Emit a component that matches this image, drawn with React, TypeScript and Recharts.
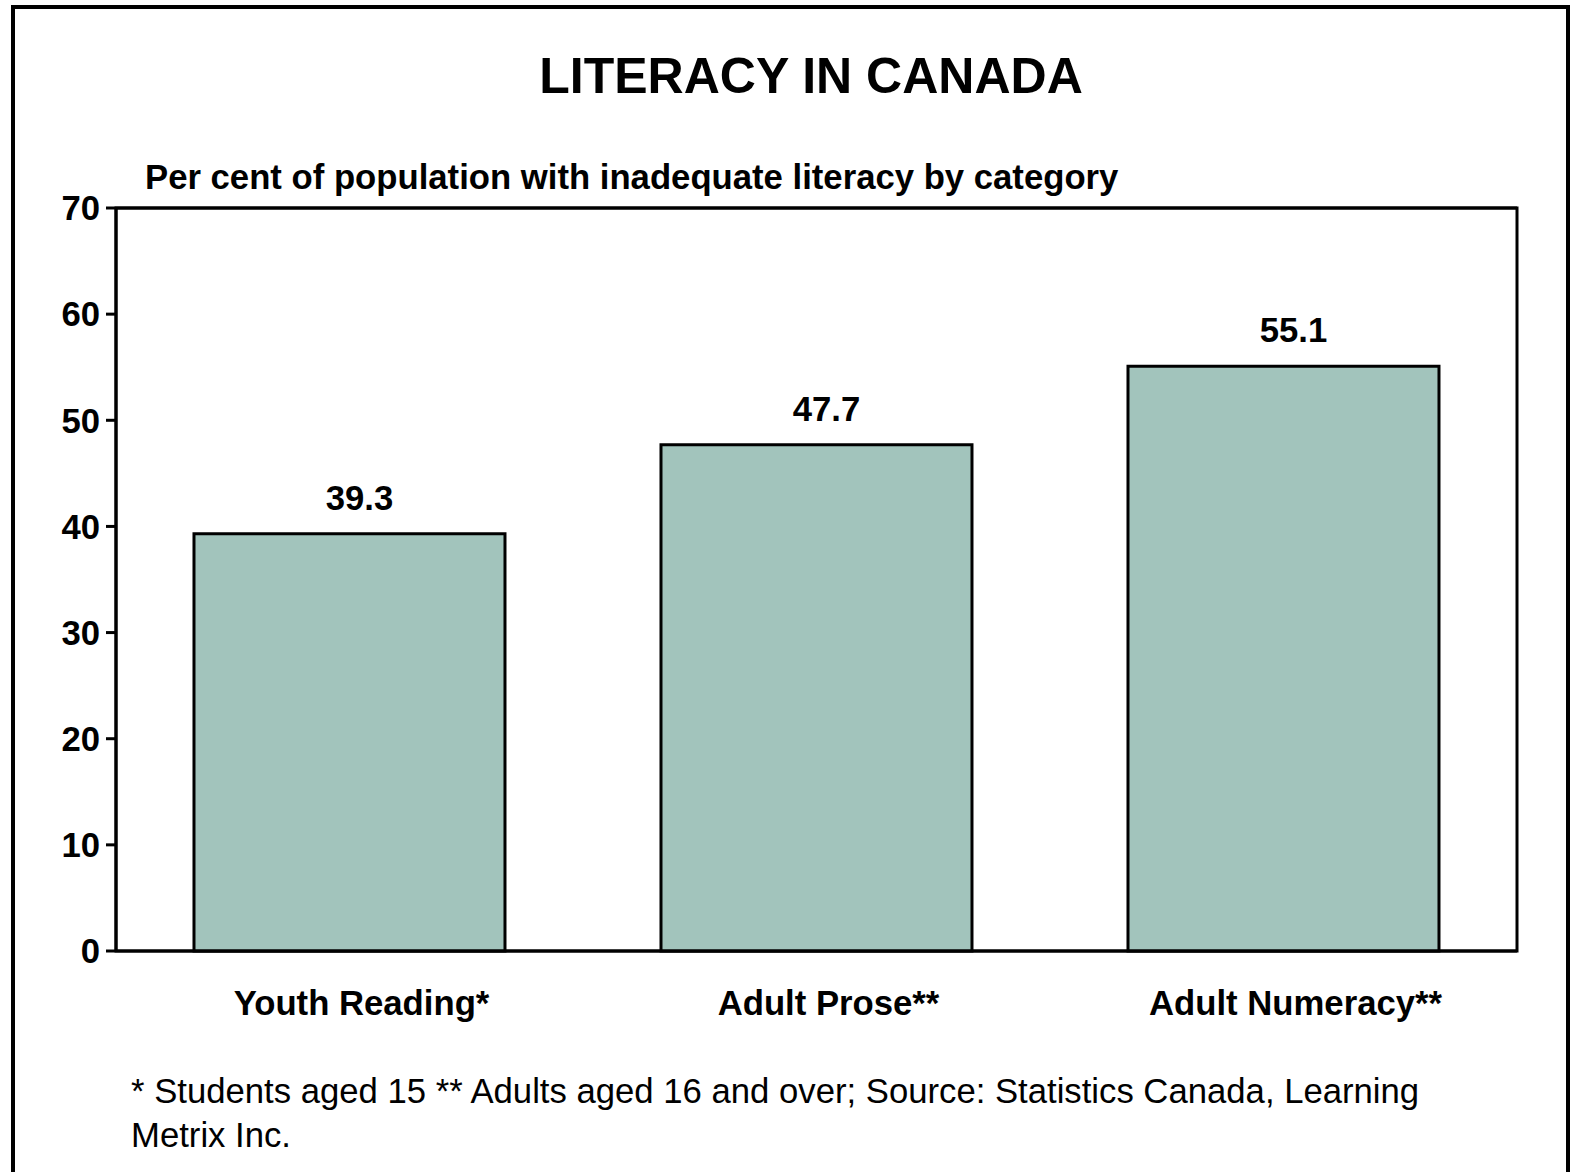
import * as Recharts from "recharts";
import { BarChart, Bar, XAxis, YAxis, LabelList, ReferenceLine } from "recharts";

const categories = ["Youth Reading*", "Adult Prose**", "Adult Numeracy**"];
const values = [39.3, 47.7, 55.1];
const yTicks = [0, 10, 20, 30, 40, 50, 60, 70];

const FONT = "'Liberation Sans', Arial, Helvetica, sans-serif";
const BAR_FILL = "#a2c4bc";
const TEXT_SIZE = 34.7;

const data = categories.map((name, i) => ({ name, value: values[i] }));

// draws the closed box round the plot area
const PlotFrame = () => {
  const usePlotArea = (Recharts as any).usePlotArea;
  const area = usePlotArea ? usePlotArea() : null;
  if (!area) return null;
  return (
    <rect
      x={area.x}
      y={area.y}
      width={area.width}
      height={area.height}
      fill="none"
      stroke="#000"
      strokeWidth={3}
    />
  );
};

export default function App() {
  return (
    <div
      style={{
        position: "absolute",
        left: 0,
        top: 0,
        width: 1573,
        height: 1172,
        overflow: "hidden",
        background: "#fff",
        fontFamily: FONT,
        color: "#000",
      }}
    >
      {/* outer frame, open at the bottom edge */}
      <div
        style={{
          position: "absolute",
          left: 11,
          top: 5,
          width: 1551,
          height: 1300,
          border: "4px solid #000",
        }}
      />
      <div
        style={{
          position: "absolute",
          left: 0,
          top: 51,
          width: 1622,
          textAlign: "center",
          fontSize: 50,
          lineHeight: "50px",
          fontWeight: "bold",
        }}
      >
        LITERACY IN CANADA
      </div>
      <div
        style={{
          position: "absolute",
          left: 145,
          top: 160,
          fontSize: TEXT_SIZE,
          lineHeight: `${TEXT_SIZE}px`,
          fontWeight: "bold",
          whiteSpace: "nowrap",
        }}
      >
        Per cent of population with inadequate literacy by category
      </div>

      <div style={{ position: "absolute", left: 0, top: 0 }}>
        <BarChart
          width={1573}
          height={1172}
          data={data}
          margin={{ top: 208, right: 56, bottom: 161, left: 0 }}
          barCategoryGap="16.7%"
        >
          <XAxis
            dataKey="name"
            tickSize={0}
            tickMargin={39}
            axisLine={{ stroke: "#000", strokeWidth: 3 }}
            tick={{ fill: "#000", fontSize: TEXT_SIZE, fontWeight: "bold", fontFamily: FONT, dx: 12 }}
            height={60}
            interval={0}
          />
          <YAxis
            domain={[0, 70]}
            ticks={yTicks}
            width={116}
            tickSize={10}
            tickMargin={6}
            axisLine={{ stroke: "#000", strokeWidth: 3 }}
            tickLine={{ stroke: "#000", strokeWidth: 3 }}
            tick={{ fill: "#000", fontSize: TEXT_SIZE, fontWeight: "bold", fontFamily: FONT }}
          />
          <ReferenceLine y={70} stroke="#000" strokeWidth={3} />
          <PlotFrame />
          <Bar
            dataKey="value"
            fill={BAR_FILL}
            stroke="#000"
            strokeWidth={3}
            isAnimationActive={false}
          >
            <LabelList
              dataKey="value"
              position="top"
              offset={24}
              dx={10}
              fill="#000"
              fontSize={TEXT_SIZE}
              fontWeight="bold"
              fontFamily={FONT}
              formatter={(v: number) => v.toFixed(1)}
            />
          </Bar>
        </BarChart>
      </div>

      <div
        style={{
          position: "absolute",
          left: 131,
          top: 1069,
          fontSize: TEXT_SIZE,
          lineHeight: "44px",
          whiteSpace: "nowrap",
        }}
      >
        * Students aged 15 ** Adults aged 16 and over; Source: Statistics Canada, Learning
        <br />
        Metrix Inc.
      </div>
    </div>
  );
}
